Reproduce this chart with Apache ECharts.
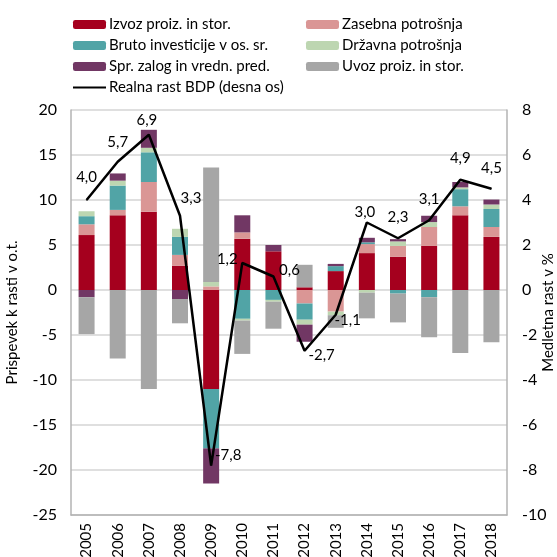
<!DOCTYPE html>
<html>
<head>
<meta charset="utf-8">
<script src="https://cdn.jsdelivr.net/npm/echarts@6/dist/echarts.min.js"></script>
<style>
  html, body { margin: 0; padding: 0; background: #fff; }
  #chart { width: 557px; height: 557px; }
</style>
</head>
<body>
<div id="chart"></div>
<script>
// leta
var years = ['2005','2006','2007','2008','2009','2010','2011','2012','2013','2014','2015','2016','2017','2018'];

// prispevki k rasti (o.t.)
var izvoz    = [6.1, 8.3, 8.7, 2.7, -11.0, 5.7, 4.3, 0.3, 2.1, 4.1, 3.7, 4.9, 8.3, 5.9];
var zasebna  = [1.2, 0.6, 3.3, 1.2, 0.4, 0.7, 0.0, -1.5, -2.4, 1.0, 1.2, 2.1, 1.0, 1.1];
var bruto    = [0.9, 2.7, 3.3, 2.0, -6.6, -3.2, -1.1, -1.8, 0.55, 0.2, -0.4, -0.8, 1.9, 2.0];
var drzavna  = [0.55, 0.55, 0.5, 0.9, 0.5, -0.2, -0.2, -0.55, -0.4, -0.3, 0.5, 0.55, 0.2, 0.5];
var zalog    = [-0.8, 0.8, 2.0, -1.0, -3.9, 1.9, 0.7, -1.9, 0.25, 0.5, 0.25, 0.7, 0.6, 0.55];
var uvoz     = [-4.1, -7.6, -11.0, -2.7, 12.7, -3.7, -3.0, 2.5, -1.4, -2.85, -3.2, -4.45, -7.0, -5.8];

// realna rast BDP (desna os)
var bdp = [4.0, 5.7, 6.9, 3.3, -7.8, 1.2, 0.6, -2.7, -1.1, 3.0, 2.3, 3.1, 4.9, 4.5];

var chart = echarts.init(document.getElementById('chart'));
var font = 'Lato';

// zamiki oznak na črti
var labelOffsets = [[0,-23],[0,-20],[-2,-15],[11,-18],[17,-10],[-15,-4],[16,-6],[17,4],[12,5],[-2,-10],[0,-21],[0,-21],[0,-22],[0,-21]];

var bdpData = [];
for (var i = 0; i < bdp.length; i++) {
  bdpData.push({ value: bdp[i], label: { offset: labelOffsets[i] } });
}

function barSeries(name, data, color) {
  return {
    name: name,
    type: 'bar',
    stack: 'prispevki',
    barWidth: 16,
    data: data,
    itemStyle: { color: color }
  };
}

var legendText = { fontFamily: font, fontSize: 15, color: '#000', padding: [0, 0, 0, -2] };

var option = {
  animation: false,
  textStyle: { fontFamily: font },
  legend: [{
    orient: 'vertical',
    left: 67, top: 12,
    itemWidth: 33, itemHeight: 9, itemGap: 6,
    textStyle: legendText,
    data: ['Izvoz proiz. in stor.', 'Bruto investicije v os. sr.', 'Spr. zalog in vredn. pred.',
      { name: 'Realna rast BDP (desna os)', itemStyle: { opacity: 0 } }]
  }, {
    orient: 'vertical',
    left: 301, top: 12,
    itemWidth: 33, itemHeight: 9, itemGap: 6,
    textStyle: legendText,
    data: ['Zasebna potrošnja', 'Državna potrošnja', 'Uvoz proiz. in stor.']
  }],
  grid: { left: 71, right: 50, top: 110, bottom: 42, outerBoundsMode: 'none', containLabel: false },
  xAxis: {
    type: 'category',
    data: years,
    axisLine: { onZero: false, lineStyle: { color: '#b3b3b3', width: 1.5 } },
    axisTick: { show: false },
    axisLabel: { rotate: 90, margin: 8, fontSize: 15, color: '#000', fontFamily: font }
  },
  yAxis: [{
    type: 'value',
    min: -25, max: 20, interval: 5,
    name: 'Prispevek k rasti v o.t.',
    nameLocation: 'middle', nameRotate: 90, nameGap: 51, nameMoveOverlap: false,
    nameTextStyle: { fontSize: 15, color: '#000', fontFamily: font },
    axisLine: { show: true, lineStyle: { color: '#b3b3b3', width: 1.5 } },
    axisTick: { show: false },
    axisLabel: { fontSize: 16, color: '#000', margin: 14, fontFamily: font },
    splitLine: { lineStyle: { color: '#d4d4d4', width: 1.5 } }
  }, {
    type: 'value',
    min: -10, max: 8, interval: 2,
    name: 'Medletna rast v %',
    nameLocation: 'middle', nameRotate: 90, nameGap: 34, nameMoveOverlap: false,
    nameTextStyle: { fontSize: 15, color: '#000', fontFamily: font },
    axisLine: { show: true, lineStyle: { color: '#b3b3b3', width: 1.5 } },
    axisTick: { show: false },
    axisLabel: { fontSize: 16, color: '#000', margin: 15, fontFamily: font },
    splitLine: { show: false }
  }],
  series: [
    barSeries('Izvoz proiz. in stor.', izvoz, '#a5001e'),
    barSeries('Zasebna potrošnja', zasebna, '#da9695'),
    barSeries('Bruto investicije v os. sr.', bruto, '#51a4a6'),
    barSeries('Državna potrošnja', drzavna, '#bdd6b1'),
    barSeries('Spr. zalog in vredn. pred.', zalog, '#713764'),
    barSeries('Uvoz proiz. in stor.', uvoz, '#a6a6a6'),
    {
      name: 'Realna rast BDP (desna os)',
      type: 'line',
      yAxisIndex: 1,
      data: bdpData,
      symbol: 'circle',
      symbolSize: 1,
      itemStyle: { color: '#000' },
      lineStyle: { color: '#000', width: 2.5 },
      z: 5,
      label: {
        show: true,
        position: 'inside',
        fontSize: 15,
        color: '#000',
        fontFamily: font,
        formatter: function (p) { return p.value.toFixed(1).replace('.', ','); }
      }
    }
  ]
};

chart.setOption(option);
</script>
</body>
</html>
